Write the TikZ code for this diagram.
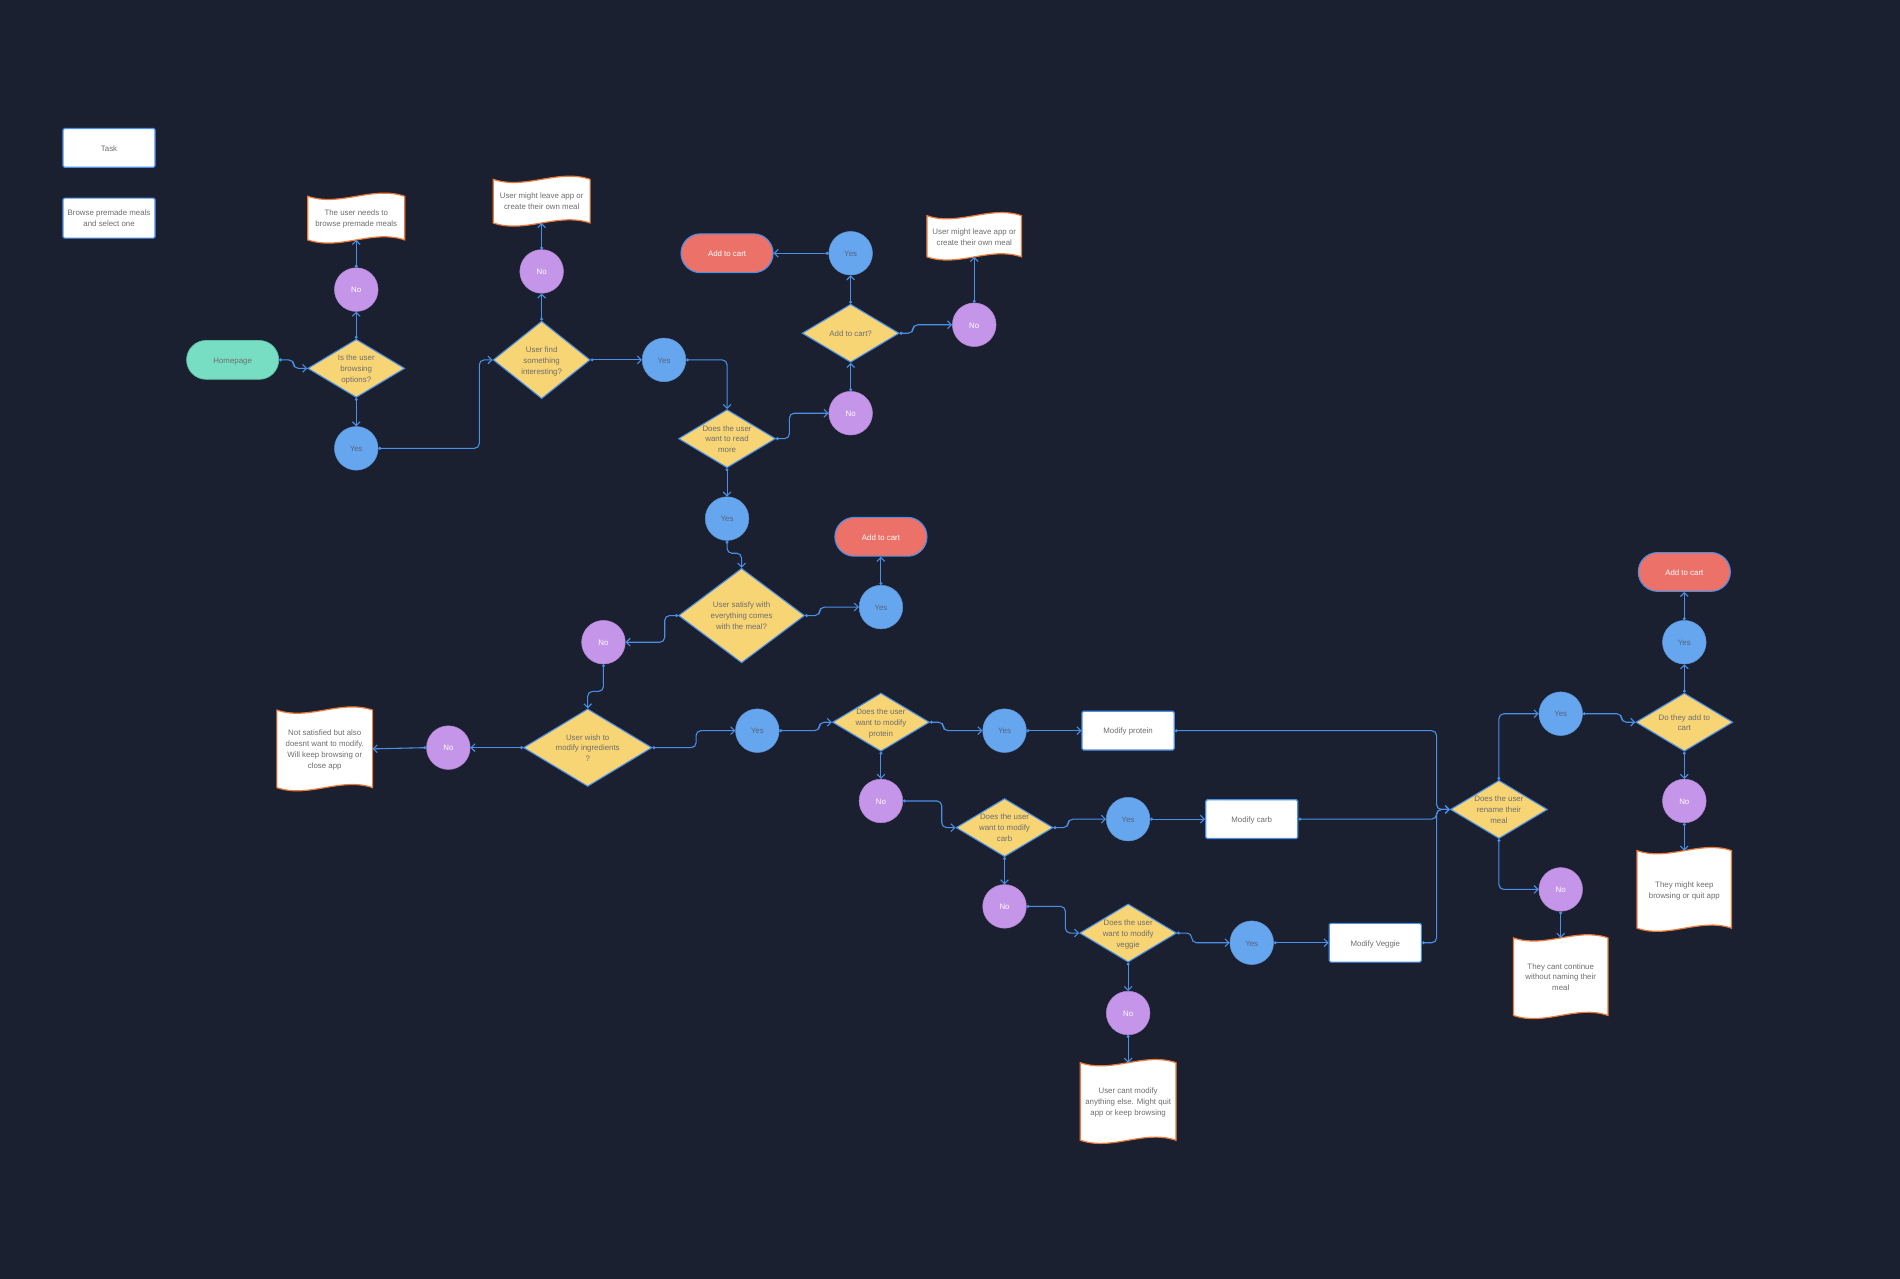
\documentclass[tikz,border=0pt]{standalone}
\usepackage{fontspec}
\setmainfont{Liberation Sans}
\usetikzlibrary{shapes.geometric,arrows.meta,calc,backgrounds}
\definecolor{bgc}{HTML}{1B2030}
\definecolor{linec}{HTML}{4A8FE6}
\definecolor{diac}{HTML}{F7D474}
\definecolor{yesc}{HTML}{66A6EF}
\definecolor{noc}{HTML}{C495E8}
\definecolor{cartc}{HTML}{EC7168}
\definecolor{homec}{HTML}{78DEC3}
\definecolor{homeb}{HTML}{5CBFA6}
\definecolor{notec}{HTML}{EA7A3C}
\definecolor{txtc}{HTML}{6E6E6E}
\definecolor{yestxt}{HTML}{55657C}
\newcommand{\ztext}[1]{\smash{\makebox[0pt]{\raisebox{-2.4pt}{\fontsize{6.5}{9}\selectfont\begin{tabular}{@{}c@{}}#1\end{tabular}}}}}
\newcommand{\wavenote}[1]{%
  \path[notepath] (#1.north west)
   .. controls ($(#1.north west)!0.333!(#1.north east)+(0,9)$) and ($(#1.north west)!0.667!(#1.north east)+(0,-9)$) .. (#1.north east)
   -- (#1.south east)
   .. controls ($(#1.south west)!0.667!(#1.south east)+(0,-9)$) and ($(#1.south west)!0.333!(#1.south east)+(0,9)$) .. (#1.south west)
   -- cycle;}
\tikzset{
  notepath/.style={fill=white, draw=notec, line width=1pt},
  conn/.style={draw=linec, line width=0.9pt, rounded corners=4pt, {Circle[length=2.4pt]}-{Straight Barb[length=3.2pt,width=6.4pt]}},
  yesn/.style={circle, fill=yesc, draw=yesc!90!black, line width=0.4pt, minimum size=36pt, inner sep=0pt, text=yestxt},
  non/.style={circle, fill=noc, draw=noc!90!black, line width=0.4pt, minimum size=36pt, inner sep=0pt, text=white},
  dia/.style={diamond, fill=diac, draw=linec, line width=0.9pt, inner sep=0pt, minimum width=80pt, minimum height=48pt, text=txtc},
  cart/.style={rectangle, rounded corners=16pt, fill=cartc, draw=linec, line width=0.9pt, minimum width=76pt, minimum height=32pt, inner sep=0pt, text=white},
  home/.style={rectangle, rounded corners=16pt, fill=homec, draw=homeb, line width=0.6pt, minimum width=76pt, minimum height=32pt, inner sep=0pt, text=txtc},
  task/.style={rectangle, rounded corners=1.2pt, fill=white, draw=linec, line width=1pt, minimum width=76pt, minimum height=32pt, inner sep=0pt, text=txtc},
  note/.style={rectangle, minimum width=79pt, minimum height=64pt, inner sep=0pt, outer sep=0pt, text=txtc},
}
\begin{document}
\begin{tikzpicture}[x=1pt,y=-1pt]
\useasboundingbox (0,0) rectangle (1568,1055);
\begin{scope}[on background layer]
  \fill[bgc] (-3,-3) rectangle (1571,1058);
\end{scope}

% legend
\node[task] (task) at (90,122) {\ztext{Task}};
\node[task, minimum height=33pt] (browse) at (90,180) {\ztext{Browse premade meals\\and select one}};

% first row
\node[home] (home) at (192,297) {\ztext{Homepage}};
\node[dia] (d1) at (294,304) {\ztext{Is the user\\browsing\\options?}};
\node[non] (no1) at (294,239) {\ztext{No}};
\node[note, minimum width=80pt, minimum height=36pt] (note1) at (294,180) {\ztext{The user needs to\\browse premade meals}};
\node[yesn] (yes1) at (294,370) {\ztext{Yes}};

\node[dia, minimum height=64pt] (d2) at (447,297) {\ztext{User find\\something\\interesting?}};
\node[non] (no2) at (447,224) {\ztext{No}};
\node[note, minimum width=80pt, minimum height=36pt] (note2) at (447,166) {\ztext{User might leave app or\\create their own meal}};
\node[yesn] (yes2) at (548,297) {\ztext{Yes}};

\node[dia] (d3) at (600,362) {\ztext{Does the user\\want to read\\more}};
\node[non] (no3) at (702,341) {\ztext{No}};
\node[dia] (d4) at (702,275) {\ztext{Add to cart?}};
\node[yesn] (yes4) at (702,209) {\ztext{Yes}};
\node[cart] (cart1) at (600,209) {\ztext{Add to cart}};
\node[non] (no4) at (804,268) {\ztext{No}};
\node[note, minimum width=78pt, minimum height=34pt] (note3) at (804,195) {\ztext{User might leave app or\\create their own meal}};

\node[yesn] (yes3) at (600,428) {\ztext{Yes}};
\node[dia, minimum width=104pt, minimum height=78pt] (d5) at (612,508) {\ztext{User satisfy with\\everything comes\\with the meal?}};
\node[yesn] (yes5) at (727,501) {\ztext{Yes}};
\node[cart] (cart2) at (727,443) {\ztext{Add to cart}};
\node[non] (no5) at (498,530) {\ztext{No}};

\node[dia, minimum width=106pt, minimum height=64pt] (d6) at (485,617) {\ztext{User wish to\\modify ingredients\\?}};
\node[non] (no6) at (370,617) {\ztext{No}};
\node[note] (note4) at (268,618) {\ztext{Not satisfied but also\\doesnt want to modify.\\Will keep browsing or\\close app}};
\node[yesn] (yes6) at (625,603) {\ztext{Yes}};

\node[dia] (d7) at (727,596) {\ztext{Does the user\\want to modify\\protein}};
\node[yesn] (yes7) at (829,603) {\ztext{Yes}};
\node[task] (protein) at (931,603) {\ztext{Modify protein}};
\node[non] (no7) at (727,661) {\ztext{No}};

\node[dia] (d8) at (829,683) {\ztext{Does the user\\want to modify\\carb}};
\node[yesn] (yes8) at (931,676) {\ztext{Yes}};
\node[task] (carb) at (1033,676) {\ztext{Modify carb}};
\node[non] (no8) at (829,748) {\ztext{No}};

\node[dia] (d9) at (931,770) {\ztext{Does the user\\want to modify\\veggie}};
\node[yesn] (yes9) at (1033,778) {\ztext{Yes}};
\node[task] (veggie) at (1135,778) {\ztext{Modify Veggie}};
\node[non] (no9) at (931,836) {\ztext{No}};
\node[note] (note5) at (931,909) {\ztext{User cant modify\\anything else. Might quit\\app or keep browsing}};

\node[dia] (d10) at (1237,668) {\ztext{Does the user\\rename their\\meal}};
\node[yesn] (yes10) at (1288,589) {\ztext{Yes}};
\node[non] (no10) at (1288,734) {\ztext{No}};
\node[note, minimum width=78pt] (note6) at (1288,806) {\ztext{They cant continue\\without naming their\\meal}};

\node[dia] (d11) at (1390,596) {\ztext{Do they add to\\cart}};
\node[yesn] (yes11) at (1390,530) {\ztext{Yes}};
\node[cart] (cart3) at (1390,472) {\ztext{Add to cart}};
\node[non] (no11) at (1390,661) {\ztext{No}};
\node[note, minimum width=78pt] (note7) at (1390,734) {\ztext{They might keep\\browsing or quit app}};

% wavy note outlines behind their text
\begin{scope}[on background layer]
  \wavenote{note1}
  \wavenote{note2}
  \wavenote{note3}
  \wavenote{note4}
  \wavenote{note5}
  \wavenote{note6}
  \wavenote{note7}
\end{scope}

% connectors
\draw[conn] (home.east) -- ++(12,0) |- (d1.west);
\draw[conn] (d1.north) -- (no1.south);
\draw[conn] (no1.north) -- (note1.south);
\draw[conn] (d1.south) -- (yes1.north);
\draw[conn] (yes1.east) -| ($(d2.west)+(-11,0)$) -- (d2.west);
\draw[conn] (d2.north) -- (no2.south);
\draw[conn] (no2.north) -- (note2.south);
\draw[conn] (d2.east) -- (yes2.west);
\draw[conn] (yes2.east) -| (d3.north);
\draw[conn] (d3.east) -- ++(11,0) |- (no3.west);
\draw[conn] (no3.north) -- (d4.south);
\draw[conn] (d4.north) -- (yes4.south);
\draw[conn] (yes4.west) -- (cart1.east);
\draw[conn] (d4.east) -- ++(11,0) |- (no4.west);
\draw[conn] (no4.north) -- (note3.south);
\draw[conn] (d3.south) -- (yes3.north);
\draw[conn] (yes3.south) |- ($(d5.north)+(0,-12)$) -- (d5.north);
\draw[conn] (d5.east) -- ++(12,0) |- (yes5.west);
\draw[conn] (yes5.north) -- (cart2.south);
\draw[conn] (d5.west) -- ++(-11,0) |- (no5.east);
\draw[conn] (no5.south) |- ($(d6.north)+(0,-14)$) -- (d6.north);
\draw[conn] (d6.west) -- (no6.east);
\draw[conn] (no6.west) -- (note4.east);
\draw[conn] (d6.east) -- ++(36,0) |- (yes6.west);
\draw[conn] (yes6.east) -- ++(33,0) |- (d7.west);
\draw[conn] (d7.east) -- ++(11,0) |- (yes7.west);
\draw[conn] (yes7.east) -- (protein.west);
\draw[conn] (d7.south) -- (no7.north);
\draw[conn] (no7.east) -- ++(32,0) |- (d8.west);
\draw[conn] (d8.east) -- ++(12,0) |- (yes8.west);
\draw[conn] (yes8.east) -- (carb.west);
\draw[conn] (d8.south) -- (no8.north);
\draw[conn] (no8.east) -- ++(32,0) |- (d9.west);
\draw[conn] (d9.east) -- ++(12,0) |- (yes9.west);
\draw[conn] (yes9.east) -- (veggie.west);
\draw[conn] (d9.south) -- (no9.north);
\draw[conn] (no9.south) -- (note5.north);
\draw[conn] (protein.east) -| ($(d10.west)+(-11,0)$) -- (d10.west);
\draw[conn] (carb.east) -| ($(d10.west)+(-11,0)$) -- (d10.west);
\draw[conn] (veggie.east) -| ($(d10.west)+(-11,0)$) -- (d10.west);
\draw[conn] (d10.north) |- (yes10.west);
\draw[conn] (d10.south) |- (no10.west);
\draw[conn] (no10.south) -- (note6.north);
\draw[conn] (yes10.east) -- ++(32,0) |- (d11.west);
\draw[conn] (d11.north) -- (yes11.south);
\draw[conn] (yes11.north) -- (cart3.south);
\draw[conn] (d11.south) -- (no11.north);
\draw[conn] (no11.south) -- (note7.north);
\end{tikzpicture}
\end{document}
